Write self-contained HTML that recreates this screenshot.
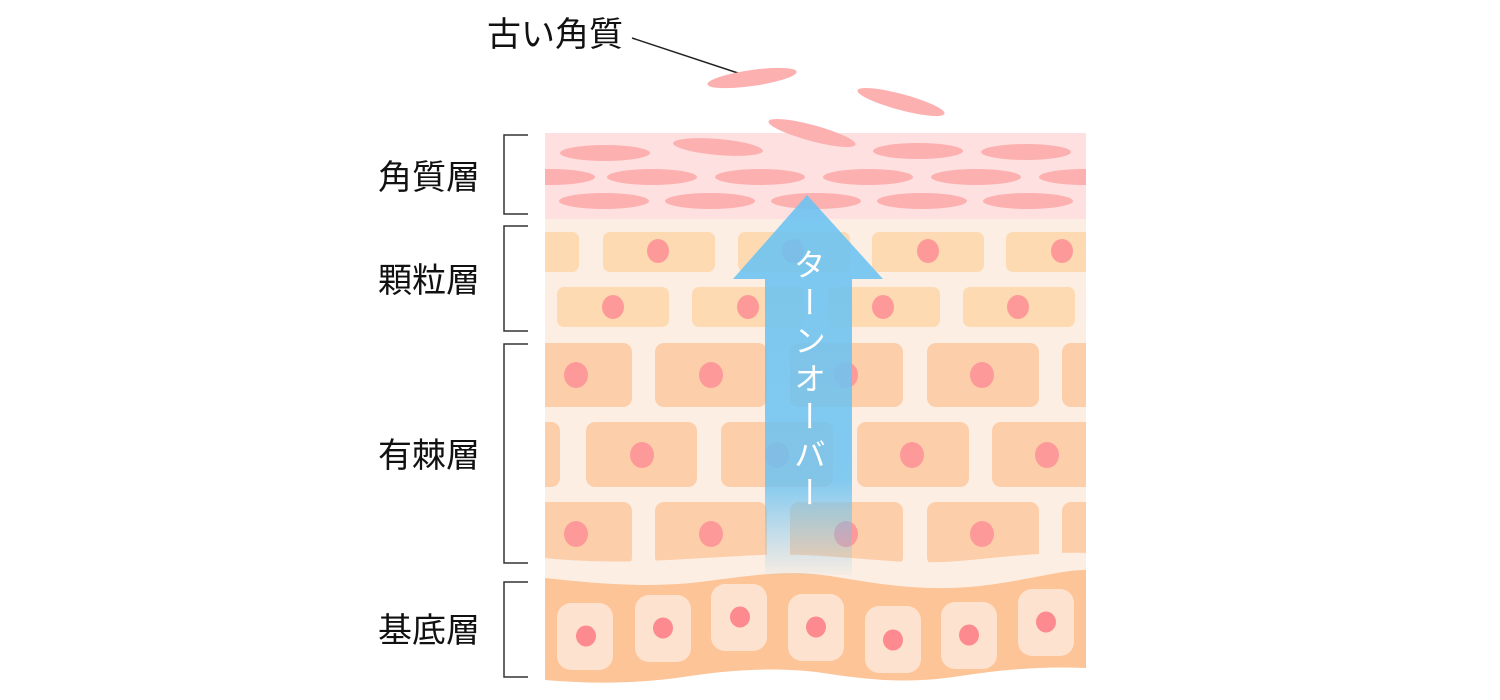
<!DOCTYPE html>
<html><head><meta charset="utf-8"><style>
html,body{margin:0;padding:0;background:#fff;}
svg{display:block}
text{font-family:"Liberation Sans","Noto Sans CJK JP",sans-serif;}
</style></head><body>
<svg width="1500" height="700" viewBox="0 0 1500 700" xmlns="http://www.w3.org/2000/svg">
<defs>
<clipPath id="c"><rect x="545" y="0" width="541" height="700"/></clipPath>
<linearGradient id="ag" x1="0" y1="0" x2="0" y2="1">
<stop offset="0" stop-color="#6cc3f2" stop-opacity="0.9"/>
<stop offset="0.75" stop-color="#6cc3f2" stop-opacity="0.85"/>
<stop offset="1" stop-color="#6cc3f2" stop-opacity="0.05"/>
</linearGradient>
</defs>
<text x="487" y="46" font-size="34" fill="#111">古い角質</text>
<line x1="632" y1="38" x2="750" y2="77" stroke="#222" stroke-width="1.5"/>
<g font-size="34" fill="#111">
<text x="378" y="189">角質層</text>
<text x="378" y="292">顆粒層</text>
<text x="378" y="467">有棘層</text>
<text x="378" y="642">基底層</text>
</g>
<g fill="none" stroke="#333" stroke-width="1.5">
<path d="M528 135H504V214H528"/>
<path d="M528 226H504V331H528"/>
<path d="M528 344H504V563H528"/>
<path d="M528 582H504V677H528"/>
</g>
<ellipse cx="752" cy="78" rx="45" ry="8" fill="#fdb0b0" transform="rotate(-8 752 78)"/>
<ellipse cx="901" cy="102" rx="45" ry="8" fill="#fdb0b0" transform="rotate(15 901 102)"/>
<g clip-path="url(#c)">
<rect x="545" y="219" width="541" height="380" fill="#fdeee3"/>
<rect x="545" y="133" width="541" height="86" fill="#fde0df"/>
<g fill="#fdb0b0">
<ellipse cx="605" cy="153" rx="45" ry="8"/>
<ellipse cx="718" cy="147" rx="45" ry="8" transform="rotate(5 718 147)"/>
<ellipse cx="812" cy="133" rx="45" ry="8" transform="rotate(15 812 133)"/>
<ellipse cx="918" cy="151" rx="45" ry="8"/>
<ellipse cx="1026" cy="152" rx="45" ry="8"/>
<ellipse cx="550" cy="177" rx="45" ry="8"/>
<ellipse cx="652" cy="177" rx="45" ry="8"/>
<ellipse cx="760" cy="177" rx="45" ry="8"/>
<ellipse cx="868" cy="177" rx="45" ry="8"/>
<ellipse cx="976" cy="177" rx="45" ry="8"/>
<ellipse cx="1084" cy="177" rx="45" ry="8"/>
<ellipse cx="604" cy="201" rx="45" ry="8"/>
<ellipse cx="710" cy="201" rx="45" ry="8"/>
<ellipse cx="816" cy="201" rx="45" ry="8"/>
<ellipse cx="922" cy="201" rx="45" ry="8"/>
<ellipse cx="1028" cy="201" rx="45" ry="8"/>
</g>
<g fill="#fddab1">
<rect x="535" y="232" width="44" height="40" rx="7"/>
<rect x="603" y="232" width="112" height="40" rx="7"/>
<rect x="738" y="232" width="112" height="40" rx="7"/>
<rect x="872" y="232" width="112" height="40" rx="7"/>
<rect x="1006" y="232" width="112" height="40" rx="7"/>
<rect x="557" y="287" width="112" height="40" rx="7"/>
<rect x="692" y="287" width="112" height="40" rx="7"/>
<rect x="828" y="287" width="112" height="40" rx="7"/>
<rect x="963" y="287" width="112" height="40" rx="7"/>
</g>
<g fill="#fd9a99">
<ellipse cx="658" cy="251" rx="11" ry="12"/><ellipse cx="793" cy="251" rx="11" ry="12"/>
<ellipse cx="928" cy="251" rx="11" ry="12"/><ellipse cx="1062" cy="251" rx="11" ry="12"/>
<ellipse cx="613" cy="307" rx="11" ry="12"/><ellipse cx="748" cy="307" rx="11" ry="12"/>
<ellipse cx="883" cy="307" rx="11" ry="12"/><ellipse cx="1018" cy="307" rx="11" ry="12"/>
</g>
<g fill="#fdceaa">
<rect x="520" y="343" width="112" height="64" rx="9"/>
<rect x="655" y="343" width="112" height="64" rx="9"/>
<rect x="790" y="343" width="113" height="64" rx="9"/>
<rect x="927" y="343" width="112" height="64" rx="9"/>
<rect x="1062" y="343" width="112" height="64" rx="9"/>
<rect x="450" y="422" width="110" height="65" rx="9"/>
<rect x="586" y="422" width="111" height="65" rx="9"/>
<rect x="721" y="422" width="112" height="65" rx="9"/>
<rect x="857" y="422" width="112" height="65" rx="9"/>
<rect x="992" y="422" width="112" height="65" rx="9"/>
<rect x="520" y="502" width="112" height="64" rx="9"/>
<rect x="655" y="502" width="112" height="64" rx="9"/>
<rect x="790" y="502" width="113" height="64" rx="9"/>
<rect x="927" y="502" width="112" height="64" rx="9"/>
<rect x="1062" y="502" width="112" height="64" rx="9"/>
</g>
<path d="M545 558 C620 566 690 558 760 555 C840 552 900 568 970 560 C1030 554 1060 552 1086 553 V600 H545Z" fill="#fdeee3"/>
<g fill="#fd9a99">
<ellipse cx="576" cy="375" rx="12" ry="13"/><ellipse cx="711" cy="375" rx="12" ry="13"/>
<ellipse cx="846" cy="375" rx="12" ry="13"/><ellipse cx="982" cy="375" rx="12" ry="13"/>
<ellipse cx="642" cy="455" rx="12" ry="13"/><ellipse cx="777" cy="455" rx="12" ry="13"/>
<ellipse cx="912" cy="455" rx="12" ry="13"/><ellipse cx="1047" cy="455" rx="12" ry="13"/>
<ellipse cx="576" cy="534" rx="12" ry="13"/><ellipse cx="711" cy="534" rx="12" ry="13"/>
<ellipse cx="846" cy="534" rx="12" ry="13"/><ellipse cx="982" cy="534" rx="12" ry="13"/>
</g>
<path d="M545 578 C600 584 650 588 700 582 C760 574 790 570 830 576 C880 584 920 592 980 586 C1030 580 1060 570 1086 570 V668 C1040 666 1000 670 960 676 C910 684 870 680 830 674 C780 666 730 670 690 676 C640 684 590 684 545 680Z" fill="#fdc497"/>
<g fill="#fde2d0">
<rect x="557" y="603" width="56" height="67" rx="14"/>
<rect x="635" y="595" width="56" height="67" rx="14"/>
<rect x="711" y="584" width="56" height="67" rx="14"/>
<rect x="788" y="594" width="56" height="67" rx="14"/>
<rect x="865" y="606" width="56" height="67" rx="14"/>
<rect x="941" y="602" width="56" height="67" rx="14"/>
<rect x="1018" y="589" width="56" height="67" rx="14"/>
</g>
<g fill="#fd8a8e">
<ellipse cx="586" cy="636" rx="10" ry="10.5"/><ellipse cx="663" cy="628" rx="10" ry="10.5"/>
<ellipse cx="740" cy="617" rx="10" ry="10.5"/><ellipse cx="816" cy="627" rx="10" ry="10.5"/>
<ellipse cx="893" cy="640" rx="10" ry="10.5"/><ellipse cx="969" cy="635" rx="10" ry="10.5"/>
<ellipse cx="1046" cy="622" rx="10" ry="10.5"/>
</g>
</g>
<polygon points="807,195 883,279 852,279 852,575 765,575 765,279 733,279" fill="url(#ag)"/>
<text x="808" y="248" font-size="32" fill="#fff" style="writing-mode:vertical-rl;letter-spacing:6px">ターンオーバー</text>
</svg>
</body></html>
